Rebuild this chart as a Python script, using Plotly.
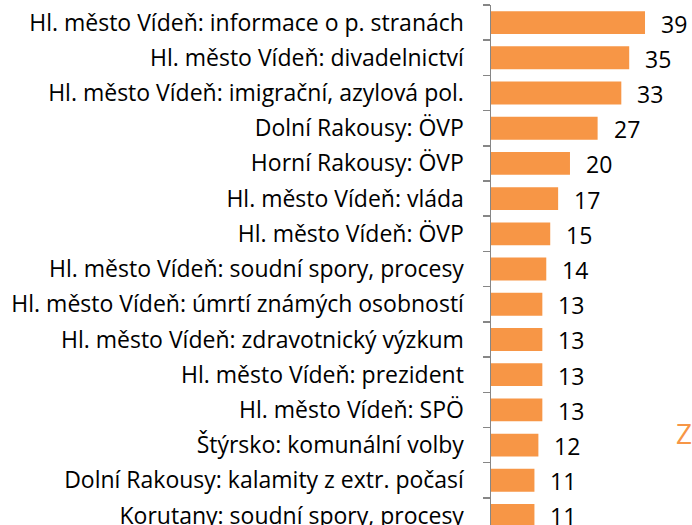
import plotly.graph_objects as go

categories = [
    "Hl. město Vídeň: informace o p. stranách",
    "Hl. město Vídeň: divadelnictví",
    "Hl. město Vídeň: imigrační, azylová pol.",
    "Dolní Rakousy: ÖVP",
    "Horní Rakousy: ÖVP",
    "Hl. město Vídeň: vláda",
    "Hl. město Vídeň: ÖVP",
    "Hl. město Vídeň: soudní spory, procesy",
    "Hl. město Vídeň: úmrtí známých osobností",
    "Hl. město Vídeň: zdravotnický výzkum",
    "Hl. město Vídeň: prezident",
    "Hl. město Vídeň: SPÖ",
    "Štýrsko: komunální volby",
    "Dolní Rakousy: kalamity z extr. počasí",
    "Korutany: soudní spory, procesy",
]
values = [39, 35, 33, 27, 20, 17, 15, 14, 13, 13, 13, 13, 12, 11, 11]

ORANGE = "#F79646"
FONT = "Open Sans"
FS = 23

fig = go.Figure(go.Bar(
    x=values, y=categories, orientation="h",
    marker=dict(color=ORANGE, line=dict(width=0)),
    hoverinfo="skip",
))

for c, v in zip(categories, values):
    fig.add_annotation(x=v, y=c, text=str(v), showarrow=False,
                       xanchor="left", yanchor="middle", xshift=14, yshift=-1,
                       font=dict(family=FONT, size=FS, color="#000000"))

fig.add_annotation(xref="paper", yref="paper", x=0.91, y=0.177, text="Z",
                   showarrow=False, xanchor="left", yanchor="middle",
                   font=dict(family=FONT, size=28, color=ORANGE))

fig.update_layout(
    width=692, height=525,
    margin=dict(l=491, r=0, t=5, b=0, autoexpand=False),
    paper_bgcolor="white", plot_bgcolor="white",
    bargap=0.35,
    showlegend=False,
    xaxis=dict(range=[0, 50.9], visible=False, fixedrange=True),
    yaxis=dict(
        type="category", categoryorder="array", categoryarray=categories,
        range=[14.27, -0.5],
        showline=True, linecolor="#868686", linewidth=1.5,
        ticks="outside", tickson="boundaries", ticklen=7, tickcolor="#868686", tickwidth=1.5,
        showgrid=False, zeroline=False, fixedrange=True,
        tickfont=dict(family=FONT, size=FS, color="#000000"),
        ticklabelstandoff=21,
        automargin=False,
    ),
)

fig.write_html("out.html", config={"displayModeBar": False, "staticPlot": True},
               post_script="document.body.style.margin='0';document.body.style.overflow='hidden';")
